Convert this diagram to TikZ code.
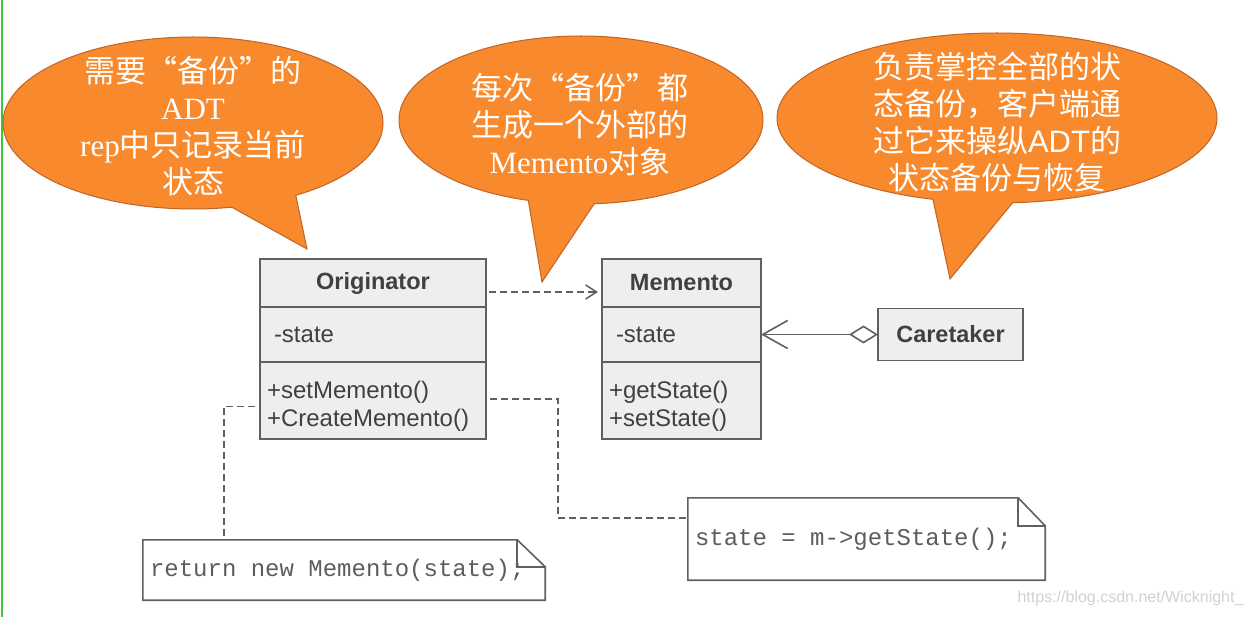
\documentclass[tikz,border=0pt]{standalone}
\usepackage{fontspec}
\setmainfont{Liberation Sans}
\newfontfamily\cjk{Noto Sans CJK SC}
\newfontfamily\serifadt{Liberation Serif}
\newfontfamily\codefont{Liberation Mono}
\usetikzlibrary{shapes.callouts,arrows.meta,positioning}
\definecolor{bubblefill}{HTML}{F8892C}
\definecolor{bubbleline}{HTML}{C06428}
\definecolor{umlfill}{HTML}{EEEEEE}
\definecolor{umlline}{HTML}{606060}
\definecolor{umltext}{HTML}{404040}
\definecolor{sidebar}{HTML}{3CC83C}
\newcommand\opsstrut{\rule{0pt}{28pt}}
\newcommand\codegap{\hspace*{14.4pt}}

\begin{document}
\begin{tikzpicture}[x=1pt,y=-1pt,
  bubble/.style={ellipse callout, draw=bubbleline, fill=bubblefill, line width=1pt, inner sep=0pt, callout pointer arc=21},
  bubbletext/.style={align=center, text=white, font=\cjk\fontsize{31}{37}\selectfont},
  umlbox/.style={draw=umlline, fill=umlfill, line width=1.6pt, outer sep=0pt, text=umltext, font=\fontsize{24}{28}\selectfont},
  umlhead/.style={umlbox, font=\bfseries\fontsize{23.5}{28}\selectfont, minimum height=48pt},
  umlattr/.style={umlbox, minimum height=55pt, align=left, inner xsep=14pt},
  umlops/.style={umlbox, minimum height=77pt, align=left, inner xsep=7pt},
  note/.style={inner xsep=7pt, align=left, text=umltext!85, font=\codefont\fontsize{24}{28}\selectfont},
  noteline/.style={draw=umlline, line width=1.6pt},
  link/.style={draw=umlline, line width=1.5pt, dash pattern=on 7pt off 4pt}]
\useasboundingbox (0,0) rectangle (1253,617);
\draw[sidebar, line width=1.2pt] (2,0) -- (2,617);

% speech bubbles
\node[bubble, minimum width=380pt, minimum height=172pt, callout absolute pointer={(307,249)}] (bubadt) at (193,123) {};
\node[bubbletext] (adttext) at (193,126) {需要“备份”的\\{\serifadt ADT}\\{\serifadt rep}中只记录当前\\状态};
\node[bubble, minimum width=364pt, minimum height=168pt, callout absolute pointer={(542,282)}] (bubmem) at (581,120) {};
\node[bubbletext] (memtext) at (580,125) {每次“备份”都\\生成一个外部的\\{\serifadt Memento}对象};
\node[bubble, minimum width=440pt, minimum height=170pt, callout absolute pointer={(950,279)}] (bubcare) at (997,118) {};
\node[bubbletext] (caretext) at (997,122) {负责掌控全部的状\\态备份，客户端通\\过它来操纵{\rmfamily ADT}的\\状态备份与恢复};

% classes
\node[umlhead, minimum width=226pt] (orig) at (373,283) {Originator};
\node[umlattr, text width=198pt, below=0pt of orig] (origattr) {-state};
\node[umlops, text width=212pt, below=0pt of origattr] (origops) {\opsstrut+setMemento()\\+CreateMemento()};
\node[umlhead, minimum width=159pt] (mem) at (681.5,283) {Memento};
\node[umlattr, text width=131pt, below=0pt of mem] (memattr) {-state};
\node[umlops, text width=145pt, below=0pt of memattr] (memops) {\opsstrut+getState()\\+setState()};
\node[umlhead, minimum width=145pt, minimum height=52pt] (care) at (950.5,334.5) {Caretaker};

% notes
\node[note, minimum height=60pt, text width=388pt] (retnote) at (344,570) {return\codegap new\codegap Memento(state);};
\node[note, minimum height=82pt, text width=343pt] (getnote) at (866.5,539) {state\codegap =\codegap m->getState();};
\draw[noteline] (retnote.north west) -- ([xshift=-28pt]retnote.north east) -- ([yshift=-27pt]retnote.north east) -- (retnote.south east) -- (retnote.south west) -- cycle;
\draw[noteline] ([xshift=-28pt]retnote.north east) |- ([yshift=-27pt]retnote.north east);
\draw[noteline] (getnote.north west) -- ([xshift=-27pt]getnote.north east) -- ([yshift=-28pt]getnote.north east) -- (getnote.south east) -- (getnote.south west) -- cycle;
\draw[noteline] ([xshift=-27pt]getnote.north east) |- ([yshift=-28pt]getnote.north east);

% connectors
\draw[link, -{Straight Barb[length=11pt,width=14pt,line width=1.5pt]}] ([shift={(3pt,-9pt)}]orig.east) -- ([shift={(-4pt,-9pt)}]mem.west);
\draw[draw=umlline, line width=1.6pt, {Straight Barb[length=25pt,width=28pt]}-{Diamond[open,length=29pt,width=18pt]}] (memattr.east) -- (care.west);
\draw[link] ([shift={(-5pt,-6pt)}]origops.west) -| ([xshift=81pt]retnote.north west);
\draw[link] ([shift={(4pt,1.5pt)}]origops.east) -| ([shift={(-130pt,21pt)}]getnote.west) -- ([yshift=21pt]getnote.west);

\node[anchor=east, text=black!18, font=\fontsize{16}{16}\selectfont] (mark) at (1247,598) {https://blog.csdn.net/Wicknight\_};
\end{tikzpicture}
\end{document}
